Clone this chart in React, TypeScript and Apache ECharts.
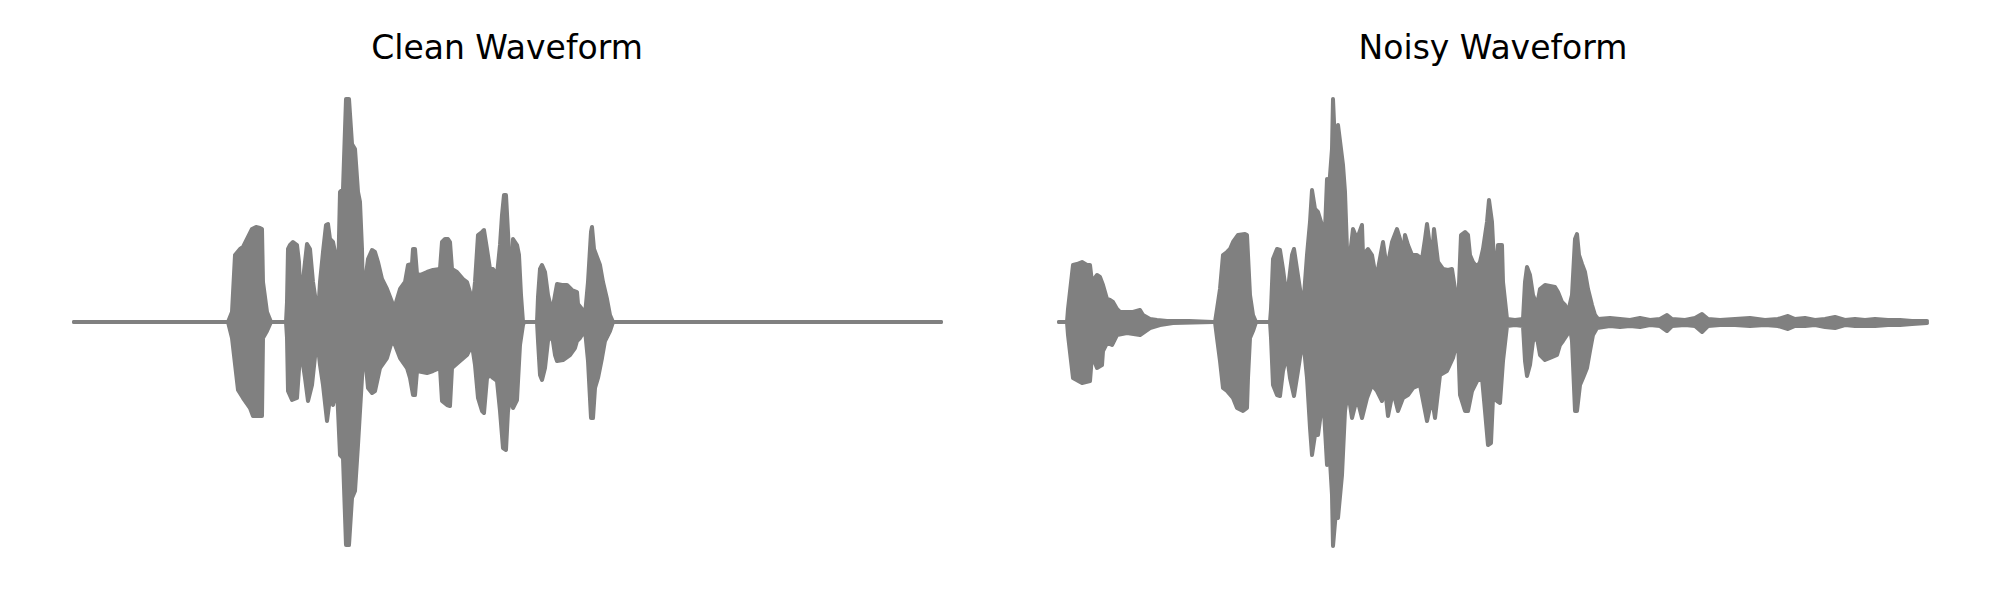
import React, { useEffect, useRef } from "react";
import * as echarts from "echarts";

// Frame index (0..868) and per-frame peak amplitude envelopes
const cleanTitle = "Clean Waveform";
const noisyTitle = "Noisy Waveform";

const cleanUpper: [number, number][] = [
  [0, 0], [154, 0], [158, 0.010], [161, 0.067], [166, 0.073], [169, 0.075], [173, 0.083], [178, 0.093], [182, 0.095], [186, 0.094], [188, 0.093], [189, 0.040], [193, 0.010], [197, 0],
  [212, 0], [213, 0.020], [214, 0.073], [216, 0.077], [219, 0.080], [223, 0.077], [225, 0.060], [226, 0.033], [228, 0.033], [231, 0.060], [233, 0.078], [236, 0.073], [239, 0.040], [243, 0.013], [244, 0.007],
  [246, 0.040], [249, 0.070], [252, 0.097], [254, 0.098], [256, 0.083], [259, 0.080], [263, 0.060], [264, 0.040], [266, 0.130], [269, 0.133], [272, 0.223], [275, 0.223], [278, 0.178], [281, 0.173], [284, 0.130], [286, 0.120], [288, 0.073], [289, 0.023],
  [291, 0.040], [294, 0.063], [298, 0.072], [301, 0.070], [304, 0.060], [308, 0.043], [313, 0.033], [318, 0.020], [320, 0.013],
  [326, 0.033], [331, 0.040], [334, 0.057], [338, 0.058], [339, 0.073], [341, 0.073], [343, 0.048], [346, 0.047], [353, 0.050], [359, 0.052], [366, 0.053], [368, 0.080], [371, 0.083], [374, 0.083], [376, 0.080], [378, 0.053], [383, 0.050], [389, 0.043], [393, 0.040], [396, 0.030], [399, 0.020],
  [401, 0.040], [404, 0.087], [408, 0.090], [410, 0.092], [413, 0.073], [416, 0.053], [419, 0.053], [423, 0.047], [426, 0.077], [428, 0.107], [430, 0.127], [432, 0.127], [434, 0.090], [437, 0.027], [439, 0.083], [443, 0.077], [445, 0.067], [447, 0.027], [449, 0],
  [463, 0], [464, 0.025], [466, 0.053], [468, 0.057], [471, 0.050], [474, 0.027], [478, 0.010], [481, 0.027], [483, 0.038], [488, 0.037], [493, 0.037], [498, 0.032], [503, 0.030], [504, 0.018], [508, 0.013], [511, 0.007],
  [514, 0.040], [517, 0.090], [518, 0.095], [520, 0.073], [523, 0.065], [526, 0.057], [529, 0.040], [533, 0.023], [536, 0.007], [539, 0], [867, 0],
];

const cleanLower: [number, number][] = [
  [0, 0], [154, 0], [158, -0.016], [164, -0.068], [169, -0.076], [176, -0.086], [179, -0.094], [184, -0.094], [188, -0.094], [189, -0.016], [193, -0.009], [197, 0],
  [212, 0], [213, -0.016], [214, -0.069], [218, -0.078], [223, -0.076], [226, -0.033], [228, -0.036], [231, -0.056], [234, -0.079], [238, -0.063], [243, -0.016],
  [246, -0.043], [249, -0.063], [253, -0.099], [256, -0.076], [259, -0.083], [263, -0.066], [266, -0.133], [269, -0.136], [272, -0.223], [275, -0.223], [278, -0.176], [281, -0.169], [284, -0.123], [288, -0.056], [290, -0.023],
  [294, -0.066], [298, -0.071], [301, -0.069], [306, -0.046], [313, -0.036], [318, -0.019], [321, -0.023],
  [326, -0.036], [333, -0.046], [336, -0.056], [339, -0.073], [341, -0.073], [343, -0.049], [353, -0.051], [359, -0.049], [366, -0.046], [368, -0.079], [373, -0.083], [376, -0.084], [378, -0.046], [386, -0.039], [393, -0.033], [398, -0.023],
  [401, -0.043], [404, -0.076], [408, -0.089], [410, -0.091], [413, -0.056], [416, -0.053], [419, -0.056], [423, -0.059], [426, -0.089], [429, -0.126], [432, -0.128], [434, -0.089], [437, -0.073], [439, -0.086], [443, -0.078], [446, -0.023], [449, -0.003], [450, 0],
  [463, 0], [464, -0.019], [466, -0.053], [468, -0.058], [471, -0.046], [474, -0.019], [478, -0.013], [481, -0.033], [483, -0.039], [489, -0.038], [496, -0.033], [501, -0.026], [503, -0.019], [506, -0.016], [511, -0.008],
  [514, -0.039], [517, -0.096], [519, -0.096], [521, -0.066], [524, -0.056], [528, -0.036], [531, -0.019], [536, -0.009], [539, 0], [867, 0],
];

const noisyUpper: [number, number][] = [
  [0, 0], [8, 0], [9, 0.013], [14, 0.057], [18, 0.058], [23, 0.060], [28, 0.057], [31, 0.057], [33, 0.040], [38, 0.047], [41, 0.045], [44, 0.037], [48, 0.023], [51, 0.022], [54, 0.020], [58, 0.013], [61, 0.010], [68, 0.010], [74, 0.010], [81, 0.012], [84, 0.007], [91, 0.003], [98, 0.002], [108, 0.001], [130, 0.001], [154, 0],
  [156, 0], [158, 0.013], [161, 0.033], [164, 0.067], [168, 0.070], [171, 0.073], [174, 0.080], [179, 0.087], [186, 0.088], [188, 0.087], [189, 0.067], [191, 0.027], [194, 0.007], [197, 0],
  [211, 0], [212, 0.013], [214, 0.063], [218, 0.073], [221, 0.072], [224, 0.053], [227, 0.030], [229, 0.033], [233, 0.067], [235, 0.073], [238, 0.053], [241, 0.033], [244, 0.013],
  [248, 0.067], [251, 0.100], [253, 0.132], [256, 0.113], [259, 0.110], [263, 0.097], [265, 0.067], [268, 0.143], [270, 0.133], [273, 0.173], [274, 0.223], [276, 0.177], [279, 0.197], [282, 0.173], [284, 0.157], [286, 0.130], [288, 0.073],
  [291, 0.067], [294, 0.093], [298, 0.083], [303, 0.097], [304, 0.067], [309, 0.073], [313, 0.067], [316, 0.050], [319, 0.053], [324, 0.080], [328, 0.053], [333, 0.080], [338, 0.093], [341, 0.083], [344, 0.067], [346, 0.087], [349, 0.077],
  [353, 0.067], [358, 0.067], [363, 0.063], [366, 0.083], [368, 0.098], [370, 0.083], [373, 0.063], [375, 0.093], [379, 0.060], [384, 0.053], [389, 0.052], [393, 0.053], [396, 0.033], [399, 0.013],
  [402, 0.087], [406, 0.090], [409, 0.087], [411, 0.067], [414, 0.060], [418, 0.055], [421, 0.060], [424, 0.073], [428, 0.100], [430, 0.122], [433, 0.100], [436, 0.040], [439, 0.077], [443, 0.077], [444, 0.040], [448, 0.003], [456, 0.002], [464, 0.003],
  [466, 0.040], [468, 0.055], [471, 0.047], [474, 0.027], [478, 0.017], [481, 0.033], [486, 0.037], [491, 0.036], [496, 0.035], [499, 0.030], [503, 0.020], [506, 0.017], [509, 0.010],
  [513, 0.027], [516, 0.083], [518, 0.088], [520, 0.067], [523, 0.058], [526, 0.050], [529, 0.033], [533, 0.017], [536, 0.007], [539, 0.003],
  [551, 0.004], [561, 0.003], [571, 0.002], [581, 0.004], [591, 0.002], [601, 0.003], [608, 0.007], [613, 0.003], [626, 0.002], [636, 0.004], [643, 0.008], [649, 0.003], [661, 0.002], [676, 0.003], [691, 0.004], [706, 0.002], [719, 0.003], [729, 0.006], [736, 0.003], [746, 0.004], [756, 0.002], [766, 0.003], [776, 0.005], [786, 0.002], [796, 0.003], [806, 0.002], [816, 0.003], [829, 0.002], [841, 0.002], [853, 0.001], [868, 0.001],
];

const noisyLower: [number, number][] = [
  [0, 0], [8, 0], [9, -0.013], [14, -0.056], [23, -0.061], [31, -0.059], [33, -0.033], [38, -0.046], [43, -0.043], [44, -0.029], [48, -0.021], [53, -0.023], [58, -0.013], [68, -0.011], [81, -0.013], [91, -0.006], [101, -0.003], [114, -0.001], [154, 0],
  [156, 0], [158, -0.016], [161, -0.039], [164, -0.066], [168, -0.069], [174, -0.076], [178, -0.086], [184, -0.089], [188, -0.086], [189, -0.056], [191, -0.016], [194, -0.009], [197, 0],
  [211, 0], [212, -0.016], [214, -0.063], [218, -0.073], [221, -0.074], [224, -0.049], [228, -0.033], [231, -0.056], [235, -0.074], [239, -0.049], [244, -0.016],
  [248, -0.056], [251, -0.106], [253, -0.133], [256, -0.113], [259, -0.113], [263, -0.083], [265, -0.089], [268, -0.143], [271, -0.139], [273, -0.173], [274, -0.224], [277, -0.189], [279, -0.196], [283, -0.153], [286, -0.089],
  [289, -0.069], [293, -0.096], [298, -0.076], [303, -0.096], [308, -0.076], [313, -0.063], [318, -0.069], [323, -0.079], [326, -0.066], [329, -0.094], [334, -0.069], [339, -0.089], [344, -0.076], [349, -0.073], [354, -0.066], [361, -0.063],
  [368, -0.099], [373, -0.076], [376, -0.096], [381, -0.053], [388, -0.049], [394, -0.036], [399, -0.016],
  [401, -0.073], [406, -0.089], [409, -0.089], [413, -0.069], [418, -0.059], [423, -0.056], [426, -0.089], [429, -0.123], [432, -0.121], [434, -0.076], [438, -0.079], [441, -0.081], [444, -0.039], [448, -0.004], [456, -0.003], [464, -0.004],
  [466, -0.039], [468, -0.054], [471, -0.043], [474, -0.019], [478, -0.016], [481, -0.033], [486, -0.038], [491, -0.036], [498, -0.033], [501, -0.023], [504, -0.019], [508, -0.013], [511, -0.006],
  [513, -0.019], [516, -0.089], [518, -0.089], [521, -0.063], [524, -0.056], [528, -0.046], [531, -0.029], [534, -0.013], [538, -0.006],
  [551, -0.004], [561, -0.005], [571, -0.004], [581, -0.005], [591, -0.003], [601, -0.004], [608, -0.009], [613, -0.004], [626, -0.003], [636, -0.004], [643, -0.010], [649, -0.004], [661, -0.003], [676, -0.003], [691, -0.004], [706, -0.003], [719, -0.004], [729, -0.007], [736, -0.004], [746, -0.004], [756, -0.003], [766, -0.005], [776, -0.006], [786, -0.003], [796, -0.004], [806, -0.004], [816, -0.004], [829, -0.003], [841, -0.003], [853, -0.002], [868, -0.001],
];

const GRAY = "#808080";

function envSeries(data: [number, number][], idx: number) {
  return {
    type: "line",
    xAxisIndex: idx,
    yAxisIndex: idx,
    data,
    symbol: "none",
    silent: true,
    clip: false,
    lineStyle: { color: GRAY, width: 4, cap: "round", join: "round" },
    areaStyle: { color: GRAY, opacity: 1 },
  };
}

export default function App() {
  const ref = useRef<HTMLDivElement>(null);
  useEffect(() => {
    if (!ref.current) return;
    const chart = echarts.init(ref.current, undefined, { renderer: "svg" });
    const titleStyle = {
      fontFamily: "DejaVu Sans",
      fontSize: 33,
      fill: "#000000",
      textAlign: "center",
      textVerticalAlign: "middle",
    };
    chart.setOption({
      animation: false,
      backgroundColor: "#ffffff",
      grid: [
        { left: 74, width: 867, top: 72, height: 500 },
        { left: 1059, width: 868, top: 72, height: 500 },
      ],
      xAxis: [
        { type: "value", gridIndex: 0, min: 0, max: 867, show: false },
        { type: "value", gridIndex: 1, min: 0, max: 868, show: false },
      ],
      yAxis: [
        { type: "value", gridIndex: 0, min: -0.25, max: 0.25, show: false },
        { type: "value", gridIndex: 1, min: -0.25, max: 0.25, show: false },
      ],
      graphic: [
        { type: "text", x: 507, y: 47, style: { ...titleStyle, text: cleanTitle } },
        { type: "text", x: 1493, y: 47, style: { ...titleStyle, text: noisyTitle } },
      ],
      series: [
        envSeries(cleanUpper, 0),
        envSeries(cleanLower, 0),
        envSeries(noisyUpper, 1),
        envSeries(noisyLower, 1),
      ],
    });
    return () => chart.dispose();
  }, []);
  return (
    <div
      ref={ref}
      style={{ position: "absolute", left: 0, top: 0, width: 2000, height: 600 }}
    />
  );
}
